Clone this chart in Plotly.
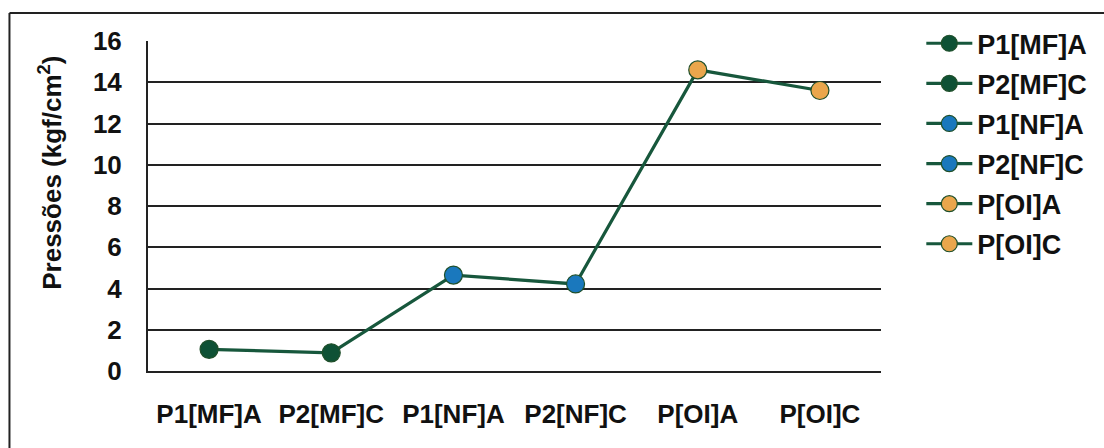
import plotly.graph_objects as go

# Pressure readings per sampling point (kgf/cm²)
categories = ["P1[MF]A", "P2[MF]C", "P1[NF]A", "P2[NF]C", "P[OI]A", "P[OI]C"]
pressures = [1.05, 0.88, 4.65, 4.22, 14.6, 13.6]
marker_colors = ["#0e5135", "#0e5135", "#1a78bd", "#1a78bd", "#eaa64c", "#eaa64c"]
y_ticks = [0, 2, 4, 6, 8, 10, 12, 14, 16]

LINE_GREEN = "#17573c"
FONT = "Arial, Liberation Sans, sans-serif"
TEXT = "#111111"

fig = go.Figure()

# Connecting line across all points
fig.add_trace(go.Scatter(
    x=categories, y=pressures, mode="lines",
    line=dict(color=LINE_GREEN, width=3.2),
    showlegend=False, hoverinfo="skip",
))

# One marker trace per point so each appears in the legend
for cat, val, col in zip(categories, pressures, marker_colors):
    fig.add_trace(go.Scatter(
        x=[cat], y=[val], mode="lines+markers", name=cat, legendgroup=cat,
        line=dict(color=LINE_GREEN, width=3.2),
        marker=dict(size=18, color=col, line=dict(color="#1f4f2a", width=1.2)),
    ))

fig.update_layout(
    width=1104, height=448,
    margin=dict(l=148, r=221, t=41, b=77),
    paper_bgcolor="white", plot_bgcolor="white",
    font=dict(family=FONT, size=26, color=TEXT, weight="bold"),
    legend=dict(
        x=1.055, y=1.066, xanchor="left", yanchor="top",
        font=dict(family=FONT, size=27, color=TEXT, weight="bold"),
        tracegroupgap=2, itemwidth=46, maxheight=420,
    ),
    shapes=[
        dict(type="line", xref="paper", yref="paper",
             x0=-0.189, x1=1.31, y0=1.085, y1=1.085,
             line=dict(color="#222222", width=2)),
        dict(type="line", xref="paper", yref="paper",
             x0=-0.189, x1=-0.189, y0=1.085, y1=-0.3,
             line=dict(color="#222222", width=2)),
    ],
    annotations=[
        dict(text="Pressões (kgf/cm<sup>2</sup>)", textangle=-90,
             xref="paper", yref="paper", x=-0.134, y=0.6,
             xanchor="center", yanchor="middle", showarrow=False,
             font=dict(family=FONT, size=26, color=TEXT, weight="bold")),
    ],
)

fig.update_xaxes(
    type="category", range=[-0.5, 5.5],
    showgrid=False, showline=True, linecolor="#222222", linewidth=2,
    ticks="", ticklabelstandoff=19,
    tickfont=dict(family=FONT, size=26, color=TEXT, weight="bold"),
)
fig.update_yaxes(
    range=[0, 16], tickvals=y_ticks,
    showgrid=True, gridcolor="#222222", gridwidth=1.6,
    showline=True, linecolor="#222222", linewidth=2,
    zeroline=False, ticks="", ticklabelstandoff=19,
    tickfont=dict(family=FONT, size=26, color=TEXT, weight="bold"),
)

fig.write_html("out.html")
